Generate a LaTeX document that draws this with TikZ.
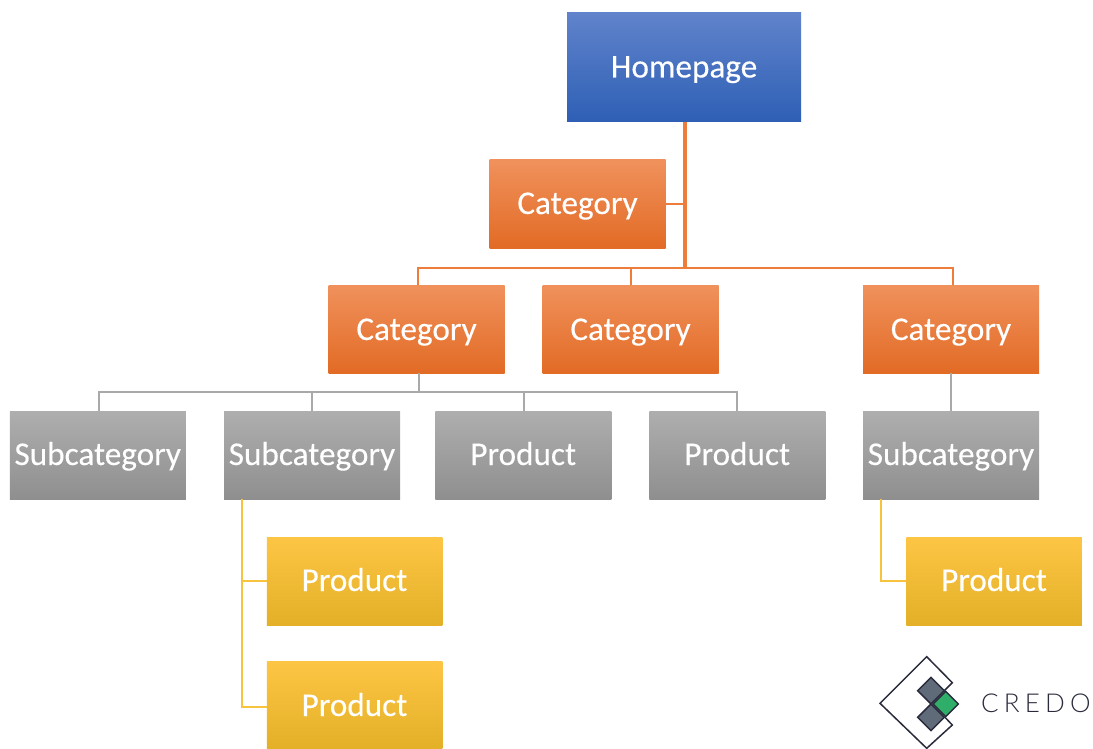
\documentclass[tikz,border=0pt]{standalone}
\usepackage{fontspec}
\setmainfont[FakeBold=0.25]{Carlito}
\newfontfamily\labelfont[AutoFakeBold=0.25]{Carlito}
\newfontfamily\logofont[LetterSpace=20]{Lato Light}
\definecolor{orangeln}{HTML}{EE7D3B}
\definecolor{grayln}{HTML}{A9A9A9}
\definecolor{yellowln}{HTML}{F8C33C}
\definecolor{logoink}{HTML}{2A2C3C}
\definecolor{logogray}{HTML}{5F6B78}
\definecolor{logogreen}{HTML}{2FAE69}
\definecolor{blueA}{HTML}{6083CB}\definecolor{blueB}{HTML}{3C6DC5}\definecolor{blueC}{HTML}{2E5FB5}
\definecolor{orangeA}{HTML}{F0915C}\definecolor{orangeB}{HTML}{F47C33}\definecolor{orangeC}{HTML}{E26B25}
\definecolor{grayA}{HTML}{AEAEAE}\definecolor{grayB}{HTML}{A5A5A5}\definecolor{grayC}{HTML}{8F8F8F}
\definecolor{yellowA}{HTML}{FDC544}\definecolor{yellowB}{HTML}{FFC024}\definecolor{yellowC}{HTML}{E3B027}
\tikzset{
  box/.style={rectangle,inner sep=0pt,outer sep=0pt,text=white,font=\labelfont\bfseries\fontsize{33.2}{36}\selectfont,text height=28pt,text depth=8pt,minimum width=176pt,minimum height=88pt},
  bluebox/.style={box,minimum width=234pt,minimum height=109pt,top color=blueA,middle color=blueB,bottom color=blueC},
  orangebox/.style={box,top color=orangeA,middle color=orangeB,bottom color=orangeC},
  graybox/.style={box,top color=grayA,middle color=grayB,bottom color=grayC},
  yellowbox/.style={box,minimum width=175.5pt,top color=yellowA,middle color=yellowB,bottom color=yellowC},
  lowtext/.style={text height=30pt},
  orangelink/.style={draw=orangeln,line width=2pt},
  trunk/.style={draw=orangeln,line width=3.2pt},
  graylink/.style={draw=grayln,line width=2pt},
  yellowlink/.style={draw=yellowln,line width=2pt},
  logoline/.style={draw=logoink,line width=1.5pt,line join=miter},
}
\begin{document}
\begin{tikzpicture}[x=1pt,y=-1pt]
\useasboundingbox (0,0) rectangle (1093,749);
% junctions
\coordinate (jorange) at (685,268);
\coordinate (jgray) at (419,392);
\coordinate (jyellowA) at (242,581);
\coordinate (jyellowB) at (242,707);
\coordinate (jyellowC) at (881,581);
% boxes
\node[bluebox] (home) at (684,67.5) {Homepage};
\node[orangebox] (cat0) at (577.5,204) {Category};
\node[orangebox,lowtext] (cat1) at (416.5,329) {Category};
\node[orangebox,lowtext] (cat2) at (630.5,329) {Category};
\node[orangebox,lowtext] (cat3) at (951,329) {Category};
\node[graybox] (sub1) at (97.75,455) {Subcategory};
\node[graybox] (sub2) at (312,455) {Subcategory};
\node[graybox] (prod1) at (523.25,455) {Product};
\node[graybox] (prod2) at (737.25,455) {Product};
\node[graybox] (sub3) at (951,455) {Subcategory};
\node[yellowbox] (prodA) at (354.5,581) {Product};
\node[yellowbox,lowtext] (prodB) at (354.5,705) {Product};
\node[yellowbox] (prodC) at (994,581) {Product};
% orange connectors
\draw[trunk] (home.south -| jorange) -- (jorange);
\draw[orangelink] (cat0.east) -- (cat0.east -| jorange);
\draw[orangelink] ([xshift=1.5pt]cat1.north) |- (jorange);
\draw[orangelink] (cat2.north) -- (cat2.north |- jorange);
\draw[orangelink] ([xshift=2pt]cat3.north) |- (jorange);
% gray connectors
\draw[graylink,line width=2.8pt] (cat1.south -| jgray) -- (jgray);
\draw[graylink] ([xshift=1pt]sub1.north) |- (jgray);
\draw[graylink] (sub2.north) -- (sub2.north |- jgray);
\draw[graylink] ([xshift=.75pt]prod1.north) -- ([xshift=.75pt]prod1.north |- jgray);
\draw[graylink] (prod2.north) |- (jgray);
\draw[graylink,line width=2.4pt] (cat3.south) -- (sub3.north);
% yellow connectors
\draw[yellowlink] (sub2.south -| jyellowA) -- (jyellowB) -- (prodB.west |- jyellowB);
\draw[yellowlink] (jyellowA) -- (prodA.west);
\draw[yellowlink] (sub3.south -| jyellowC) -- (jyellowC) -- (prodC.west);
% logo
\draw[logoline] (945,717.3) -- (952.3,725) -- (926.7,748.3) -- (880,703.3) -- (926.7,656.7) -- (952.3,682.7) -- (943.3,691.7);
\draw[logoline,fill=logogray] (931,677.4) -- (944.3,690.7) -- (931,704) -- (917.7,690.7) -- cycle;
\draw[logoline,fill=logogray] (931,704) -- (944.3,717.3) -- (931,730.6) -- (917.7,717.3) -- cycle;
\draw[logoline,fill=logogreen] (945.7,691.3) -- (958.4,704) -- (945.7,716.7) -- (933,704) -- cycle;
\node[inner sep=0pt,anchor=west,text=logoink,font=\logofont\fontsize{26}{30}\selectfont] (credo) at (981,703.5) {CREDO};
\end{tikzpicture}
\end{document}
